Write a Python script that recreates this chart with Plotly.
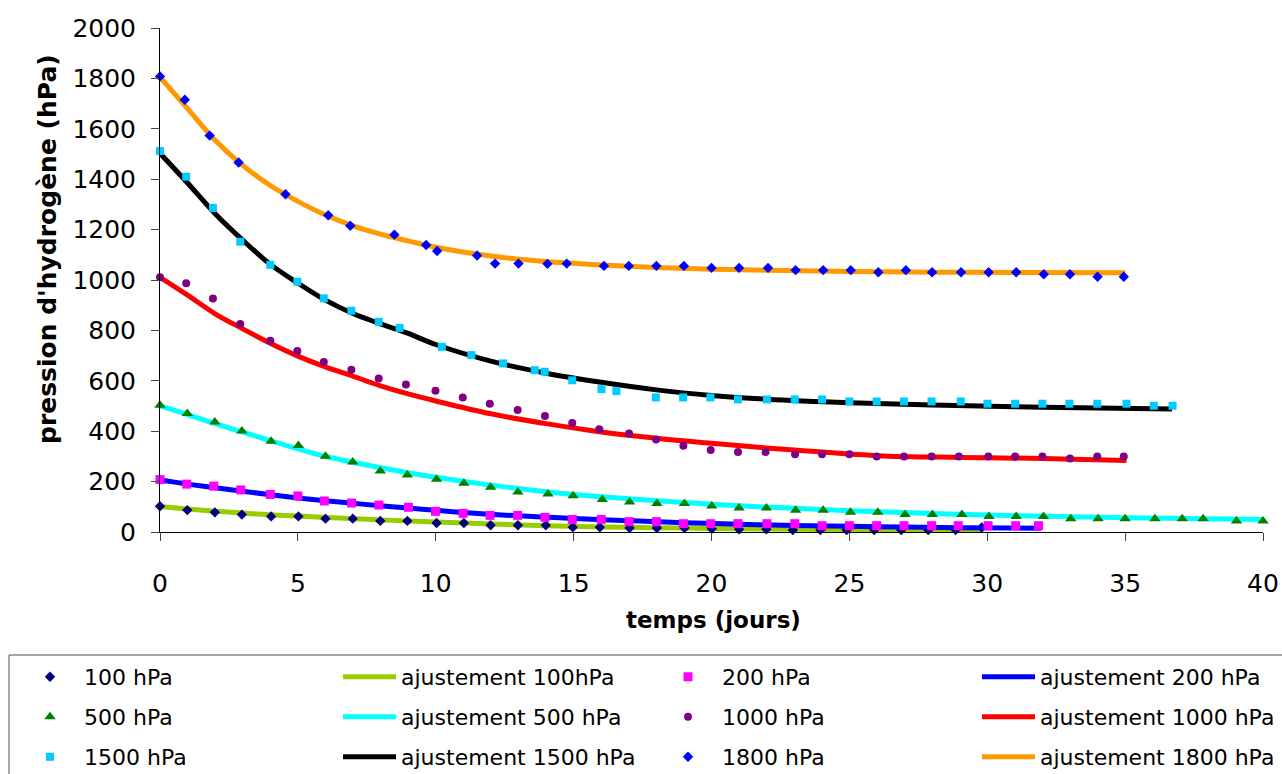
import plotly.graph_objects as go

FONT = "DejaVu Sans"

# ---- mesures (temps en jours, pression en hPa) ----
t_100 = [0, 0.99, 1.99, 2.97, 4.03, 5.02, 6.0, 6.99, 7.99, 8.97,
         10.03, 11.02, 11.99, 12.98, 13.99, 14.97, 15.95, 17.03, 18.02, 19.02,
         20.01, 21.0, 21.99, 22.95, 23.95, 24.9, 25.9, 26.88, 27.86, 28.85, 29.8]
p_100 = [102, 87, 78, 69, 62, 62, 53, 53, 44, 44,
         36, 36, 27, 27, 27, 19, 19, 16, 16, 16,
         13, 11, 11, 8, 8, 8, 8, 8, 8, 8, 18]

t_200 = [0, 0.97, 1.95, 2.93, 4.0, 5.0, 5.96, 6.95, 7.94, 9.01,
         9.99, 10.99, 11.97, 12.97, 13.96, 14.95, 16.0, 17.01, 18.0, 18.98,
         19.97, 20.96, 22.01, 23.02, 24.01, 25.0, 25.99, 26.98, 27.98, 28.95,
         30.03, 31.03, 31.86]
p_200 = [208, 190, 182, 167, 149, 143, 123, 115, 107, 98,
         82, 74, 66, 66, 58, 50, 50, 41, 41, 33,
         33, 33, 33, 33, 25, 25, 25, 25, 25, 25,
         25, 25, 25]

t_500 = [0, 0.99, 1.99, 2.97, 4.03, 5.02, 6.0, 6.99, 7.99, 8.97,
         10.03, 11.02, 11.99, 12.98, 14.07, 14.98, 16.04, 17.03, 18.02, 19.02,
         20.01, 21.0, 21.99, 23.05, 24.05, 25.04, 26.03, 27.02, 28.01, 29.08,
         30.06, 31.05, 32.04, 33.03, 34.02, 35.0, 36.08, 37.07, 37.83, 39.04, 40.0]
p_500 = [503, 470, 437, 401, 360, 343, 301, 278, 242, 226,
         209, 193, 178, 159, 151, 144, 129, 119, 113, 113,
         103, 95, 95, 86, 86, 78, 78, 69, 69, 69,
         62, 62, 62, 53, 53, 53, 53, 53, 53, 44, 44]

t_1000 = [0, 0.95, 1.92, 2.91, 4.0, 4.98, 5.94, 6.94, 7.93, 8.92,
          9.99, 10.98, 11.96, 12.97, 13.96, 14.95, 15.93, 17.01, 17.99, 18.98,
          19.97, 20.96, 21.96, 23.03, 24.01, 25.0, 25.99, 26.98, 27.98, 28.97,
          30.04, 31.01, 32.0, 33.0, 33.99, 34.95]
p_1000 = [1011, 987, 927, 825, 759, 718, 675, 644, 609, 585,
          561, 534, 509, 484, 460, 433, 408, 391, 367, 342,
          325, 317, 317, 309, 309, 309, 300, 300, 300, 300,
          300, 300, 300, 292, 300, 300]

t_1500 = [0, 0.95, 1.92, 2.91, 4.0, 4.98, 5.94, 6.94, 7.93, 8.69,
          10.22, 11.29, 12.44, 13.59, 13.95, 14.95, 16.01, 16.55, 17.98, 18.97,
          19.96, 20.96, 22.01, 23.02, 24.01, 25.0, 25.99, 26.98, 27.98, 29.04,
          30.01, 31.01, 32.0, 32.98, 33.99, 35.05, 36.04, 36.72]
p_1500 = [1512, 1410, 1286, 1152, 1060, 993, 927, 878, 834, 810,
          735, 702, 669, 642, 636, 602, 567, 559, 534, 534,
          534, 526, 526, 526, 526, 518, 518, 518, 518, 518,
          509, 509, 509, 509, 509, 509, 501, 501]

t_1800 = [0, 0.9, 1.8, 2.85, 4.55, 6.1, 6.9, 8.5, 9.65, 10.05,
          11.5, 12.15, 13.0, 14.05, 14.75, 16.1, 17.0, 18.0, 19.0, 20.0,
          21.0, 22.05, 23.05, 24.05, 25.05, 26.05, 27.05, 28.0, 29.05, 30.05,
          31.05, 32.05, 33.0, 34.0, 34.95]
p_1800 = [1808, 1715, 1573, 1466, 1340, 1257, 1215, 1180, 1139, 1115,
          1097, 1065, 1065, 1064, 1065, 1056, 1056, 1056, 1056, 1048,
          1048, 1048, 1039, 1039, 1039, 1031, 1039, 1031, 1031, 1031,
          1031, 1023, 1023, 1013, 1013]

# ---- courbes d'ajustement ----
ta_100 = [0, 1, 2, 3, 4, 5, 6, 7, 8, 9, 10, 12, 14, 16, 18, 20, 22, 25, 28, 29.8]
pa_100 = [101, 91, 82, 75, 68, 63, 58, 53, 48, 44, 40, 32, 25, 20, 17, 14, 12, 9, 7, 6]

ta_200 = [0, 1, 2, 3, 4, 5, 6, 7, 8, 9, 10, 11, 12, 13, 14, 15, 17, 19, 21, 23, 26, 29, 31.95]
pa_200 = [206, 190, 176, 162, 148, 135, 124, 114, 104, 95, 86, 77, 70, 64, 59, 54, 45, 37, 31, 26, 21, 17, 15]

ta_500 = [0, 1, 2, 3, 4, 5, 6, 7, 8, 9, 10, 12, 14, 16, 18, 20, 22, 25, 30, 35, 40.2]
pa_500 = [500, 466, 430, 396, 363, 330, 300, 277, 255, 235, 217, 186, 160, 140, 124, 110, 99, 84, 67, 57, 49]

ta_1000 = [0, 1, 2, 3, 4, 5, 6, 7, 8, 9, 10, 12, 14, 16, 18, 20, 23, 26, 29, 32, 35.05]
pa_1000 = [1011, 940, 866, 806, 749, 698, 655, 618, 580, 548, 520, 469, 430, 397, 372, 352, 325, 303, 296, 292, 284]

ta_1500 = [0, 1, 2, 3, 4, 5, 6, 7, 8, 9, 10, 12, 14, 16, 18, 20, 22, 25, 28, 31, 34, 36.7]
pa_1500 = [1503, 1385, 1263, 1158, 1062, 988, 920, 867, 826, 788, 744, 678, 630, 594, 564, 542, 527, 513, 504, 497, 492, 488]

ta_1800 = [0, 1, 2, 3, 4, 5, 6, 7, 8, 9, 10, 12, 14, 16, 18, 20, 22, 25, 28, 31, 35]
pa_1800 = [1805, 1680, 1555, 1455, 1375, 1312, 1258, 1215, 1182, 1155, 1130, 1095, 1073, 1060, 1050, 1043, 1039, 1034, 1031, 1030, 1029]

# ---- styles ----
points = {
    "100 hPa": dict(x=t_100, y=p_100, symbol="diamond", size=8, color="#000080"),
    "200 hPa": dict(x=t_200, y=p_200, symbol="square", size=9, color="#FF00FF"),
    "500 hPa": dict(x=t_500, y=p_500, symbol="triangle-up", size=10, color="#008000"),
    "1000 hPa": dict(x=t_1000, y=p_1000, symbol="circle", size=8, color="#800080"),
    "1500 hPa": dict(x=t_1500, y=p_1500, symbol="square", size=8, color="#00CCFF"),
    "1800 hPa": dict(x=t_1800, y=p_1800, symbol="diamond", size=8, color="#0000FF"),
}
fits = {
    "ajustement 100hPa": dict(x=ta_100, y=pa_100, color="#99CC00"),
    "ajustement 200 hPa": dict(x=ta_200, y=pa_200, color="#0000FF"),
    "ajustement 500 hPa": dict(x=ta_500, y=pa_500, color="#00FFFF"),
    "ajustement 1000 hPa": dict(x=ta_1000, y=pa_1000, color="#FF0000"),
    "ajustement 1500 hPa": dict(x=ta_1500, y=pa_1500, color="#000000"),
    "ajustement 1800 hPa": dict(x=ta_1800, y=pa_1800, color="#FF9900"),
}
pairs = [("100 hPa", "ajustement 100hPa"), ("200 hPa", "ajustement 200 hPa"),
         ("500 hPa", "ajustement 500 hPa"), ("1000 hPa", "ajustement 1000 hPa"),
         ("1500 hPa", "ajustement 1500 hPa"), ("1800 hPa", "ajustement 1800 hPa")]

# plot area in pixels
W, H = 1282, 774
L, R, T, B = 160, 19, 28, 242
PW, PH = W - L - R, H - T - B

def px_x(px):
    return (px - L) / PW

def px_y(py):
    return (H - B - py) / PH

# legend grid: 3 rows x 4 columns (marker, fit line, marker, fit line)
row_y = [677, 717, 757]
col_x = [16, 338, 654, 977]
col_itemwidth = [58, 53, 58, 53]
legend_slot = {}
order = ["100 hPa", "ajustement 100hPa", "200 hPa", "ajustement 200 hPa",
         "500 hPa", "ajustement 500 hPa", "1000 hPa", "ajustement 1000 hPa",
         "1500 hPa", "ajustement 1500 hPa", "1800 hPa", "ajustement 1800 hPa"]
for i, name in enumerate(order):
    legend_slot[name] = (i // 4, i % 4, "legend" if i == 0 else f"legend{i + 1}")

fig = go.Figure()
for pname, fname in pairs:
    f = fits[fname]
    fig.add_trace(go.Scatter(
        x=f["x"], y=f["y"], mode="lines", name=fname,
        line=dict(color=f["color"], width=5, shape="spline", smoothing=1.0),
        legend=legend_slot[fname][2], cliponaxis=False, hoverinfo="skip"))
    p = points[pname]
    fig.add_trace(go.Scatter(
        x=p["x"], y=p["y"], mode="markers", name=pname,
        marker=dict(symbol=p["symbol"], size=p["size"], color=p["color"],
                    line=dict(width=0)),
        legend=legend_slot[pname][2], cliponaxis=False))

legends = {}
for name, (r, c, key) in legend_slot.items():
    legends[key] = dict(
        x=px_x(col_x[c]), y=px_y(row_y[r]), xanchor="left", yanchor="middle",
        orientation="v", bgcolor="rgba(0,0,0,0)", borderwidth=0,
        itemwidth=col_itemwidth[c],
        font=dict(family=FONT, size=22, color="black"))

fig.update_layout(
    width=W, height=H,
    margin=dict(l=L, r=R, t=T, b=B, autoexpand=False),
    paper_bgcolor="white", plot_bgcolor="white",
    font=dict(family=FONT, color="black"),
    showlegend=True,
    **legends,
    xaxis=dict(range=[0, 40], dtick=5, tick0=0, showgrid=False, zeroline=False,
               showline=True, linecolor="black", linewidth=1,
               ticks="outside", ticklen=8, tickcolor="#444", tickwidth=1,
               ticklabelstandoff=21,
               tickfont=dict(family=FONT, size=25, color="black")),
    yaxis=dict(range=[0, 2000], dtick=200, tick0=0, showgrid=False, zeroline=False,
               showline=True, linecolor="black", linewidth=1,
               ticks="outside", ticklen=8, tickcolor="#444", tickwidth=1,
               ticklabelstandoff=10,
               tickfont=dict(family=FONT, size=25, color="black")),
    annotations=[
        dict(text="temps (jours)", xref="paper", yref="paper",
             x=px_x(713), y=px_y(620), xanchor="center", yanchor="middle",
             showarrow=False, font=dict(family=FONT, size=23, weight="bold")),
        dict(text="pression d'hydrogène (hPa)", xref="paper", yref="paper",
             x=px_x(47), y=px_y(249), xanchor="center", yanchor="middle",
             textangle=-90, showarrow=False,
             font=dict(family=FONT, size=25, weight="bold")),
    ],
    shapes=[dict(type="rect", xref="paper", yref="paper",
                 x0=px_x(9), x1=px_x(1400), y0=px_y(655), y1=px_y(800),
                 line=dict(color="#505050", width=1), fillcolor="rgba(0,0,0,0)",
                 layer="below")],
)

fig.write_html("out.html")
